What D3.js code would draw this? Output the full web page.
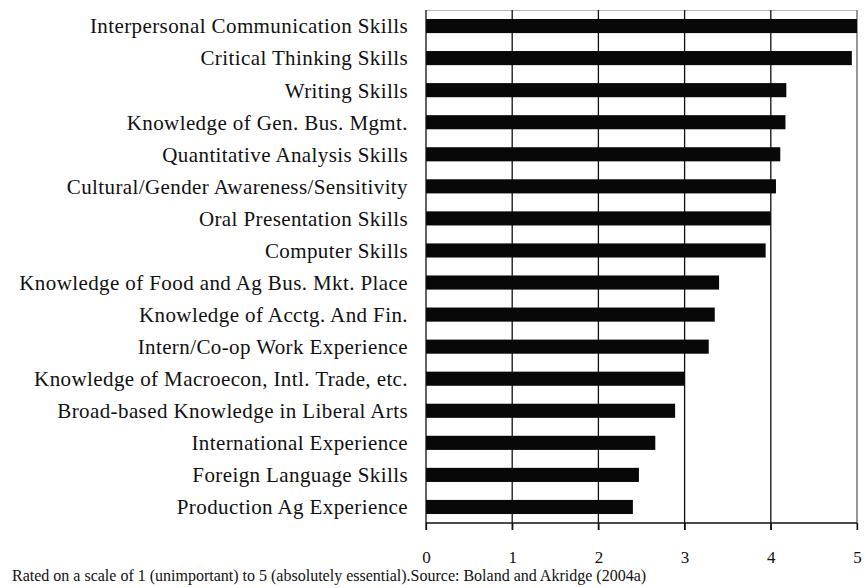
<!DOCTYPE html>
<html>
<head>
<meta charset="utf-8">
<script src="https://cdn.jsdelivr.net/npm/d3@7"></script>
<style>
  body { margin: 0; background: #fff; }
  svg { display: block; }
</style>
</head>
<body>
<svg id="svg"></svg>
<script>
var skills = [
  "Interpersonal Communication Skills",
  "Critical Thinking Skills",
  "Writing Skills",
  "Knowledge of Gen. Bus. Mgmt.",
  "Quantitative Analysis Skills",
  "Cultural/Gender Awareness/Sensitivity",
  "Oral Presentation Skills",
  "Computer Skills",
  "Knowledge of Food and Ag Bus. Mkt. Place",
  "Knowledge of Acctg. And Fin.",
  "Intern/Co-op Work Experience",
  "Knowledge of Macroecon, Intl. Trade, etc.",
  "Broad-based Knowledge in Liberal Arts",
  "International Experience",
  "Foreign Language Skills",
  "Production Ag Experience"
]
var ratings = [5.0, 4.94, 4.18, 4.17, 4.11, 4.06, 4.0, 3.94, 3.40, 3.35, 3.28, 3.0, 2.89, 2.66, 2.47, 2.40]
var xTicks = [0, 1, 2, 3, 4, 5]
var note = "Rated on a scale of 1 (unimportant) to 5 (absolutely essential).Source: Boland and Akridge (2004a)"

var width = 866, height = 588
var margin = {top: 10, right: 9, bottom: 65, left: 426}
var w = width - margin.left - margin.right
var h = height - margin.top - margin.bottom
var font = "'Liberation Serif', 'Times New Roman', serif"

var svg = d3.select("#svg")
  .attr("width", width)
  .attr("height", height)
  .style("font-family", font)

var g = svg.append("g")
  .attr("transform", `translate(${margin.left},${margin.top})`)

var x = d3.scaleLinear().domain([0, 5]).range([0, w])
var y = d3.scaleBand().domain(skills).range([0, h]).paddingInner(0.56).paddingOuter(0.28)

// light frame top/right
g.append("path")
  .attr("d", `M0,0.5H${w}V${h}`)
  .attr("fill", "none")
  .attr("stroke", "#b8b8b8")
  .attr("stroke-width", 1.2)

// vertical gridlines, continue below as ticks
g.selectAll(".grid")
  .data(xTicks.slice(1))
  .enter().append("line")
  .attr("class", "grid")
  .attr("x1", d => x(d)).attr("x2", d => x(d))
  .attr("y1", 0).attr("y2", h + 7)
  .attr("stroke", d => d === 5 ? "#777" : "#111")
  .attr("stroke-width", 1.3)

g.selectAll(".bar")
  .data(ratings)
  .enter().append("rect")
  .attr("class", "bar")
  .attr("x", 0)
  .attr("y", (d, i) => y(skills[i]))
  .attr("width", d => x(d))
  .attr("height", y.bandwidth())
  .attr("fill", "#080808")

var xAxis = d3.axisBottom(x).tickValues(xTicks).tickSize(7).tickPadding(21).tickFormat(d3.format("d"))
var xg = g.append("g")
  .attr("transform", `translate(0,${h})`)
  .call(xAxis)
xg.select(".domain").attr("stroke", "#111").attr("stroke-width", 1.3).attr("d", `M0,0H${w}`)
xg.selectAll(".tick line").attr("stroke", "#111").attr("stroke-width", 1.3)
xg.selectAll(".tick text")
  .attr("fill", "#111")
  .style("font-family", font)
  .style("font-size", "17px")

// left axis line
g.append("line")
  .attr("x1", 0).attr("x2", 0)
  .attr("y1", 0).attr("y2", h + 7)
  .attr("stroke", "#111")
  .attr("stroke-width", 1.3)

g.selectAll(".lbl")
  .data(skills)
  .enter().append("text")
  .attr("class", "lbl")
  .attr("x", -18)
  .attr("y", d => y(d) + y.bandwidth() / 2)
  .attr("dy", "0.35em")
  .attr("text-anchor", "end")
  .attr("fill", "#111")
  .style("font-size", "21px")
  .style("letter-spacing", "0.4px")
  .text(d => d)

svg.append("text")
  .attr("x", 12)
  .attr("y", 581)
  .attr("fill", "#111")
  .style("font-size", "16px")
  .text(note)
</script>
</body>
</html>
